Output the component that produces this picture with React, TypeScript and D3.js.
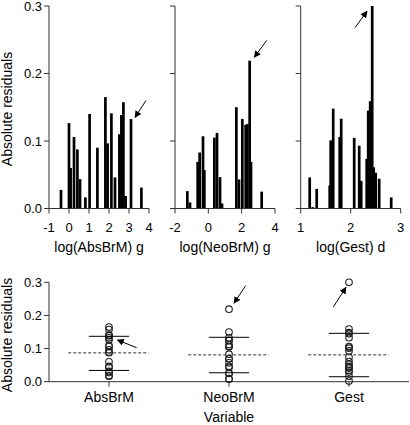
import React from "react";
import * as d3 from "d3";

// ---- data ----
const absX = [-0.4, 0.0, 0.08, 0.25, 0.42, 0.55, 0.82, 1.03, 1.42, 1.82, 1.93, 2.12, 2.3, 2.52, 2.62, 2.72, 2.83, 3.1, 3.62];
const absR = [0.0275, 0.1265, 0.06, 0.106, 0.0875, 0.0435, 0.0165, 0.14, 0.09, 0.165, 0.0965, 0.141, 0.046, 0.11, 0.1385, 0.1575, 0.0185, 0.1325, 0.031];

const neoX = [-1.26, -1.1, -0.64, -0.52, -0.32, -0.24, 0.36, 0.52, 0.7, 0.82, 1.68, 1.84, 2.04, 2.24, 2.34, 2.48, 2.56, 3.2];
const neoR = [0.0257, 0.009, 0.069, 0.083, 0.107, 0.057, 0.105, 0.112, 0.0465, 0.0074, 0.15, 0.043, 0.1327, 0.124, 0.125, 0.219, 0.069, 0.025];

const gestX = [1.18, 1.24, 1.32, 1.58, 1.6, 1.65, 1.78, 1.81, 2.07, 2.17, 2.21, 2.32, 2.35, 2.39, 2.43, 2.46, 2.5, 2.57, 2.81];
const gestR = [0.046, 0.002, 0.029, 0.034, 0.101, 0.148, 0.106, 0.133, 0.1045, 0.093, 0.041, 0.0736, 0.145, 0.159, 0.3, 0.061, 0.053, 0.044, 0.0164];

const panelTitles = ["log(AbsBrM) g", "log(NeoBrM) g", "log(Gest) d"];
const panelDomains: [number, number][] = [[-1, 4], [-2, 4], [1, 3]];
const panelTicks = [[-1, 0, 1, 2, 3, 4], [-2, 0, 2, 4], [1, 2, 3]];
const yTicks = [0, 0.1, 0.2, 0.3];

// arrows in data units [x1, y1, x2, y2] (tail -> head)
const panelArrows = [
  [3.85, 0.16, 3.3, 0.135],
  [3.5, 0.249, 2.76, 0.224],
  [2.086, 0.268, 2.326, 0.292],
];

const categories = ["AbsBrM", "NeoBrM", "Gest"];
const catMean = [0.087, 0.081, 0.081];
const catUpper = [0.137, 0.134, 0.146];
const catLower = [0.034, 0.027, 0.015];
// arrows: band-fraction offsets from center and y values [dx1, y1, dx2, y2]
const catArrows = [
  [0.23, 0.1026, 0.07, 0.126],
  [0.139, 0.29, 0.042, 0.237],
  [-0.13, 0.226, -0.025, 0.285],
];

const FONT = "Arial, 'Liberation Sans', Helvetica, sans-serif";

export default function App() {
  const panels = [
    { x: absX, r: absR },
    { x: neoX, r: neoR },
    { x: gestX, r: gestR },
  ];
  const panelRanges: [number, number][] = [[49, 149], [175, 275], [300.7, 400.7]];
  const yTop = d3.scaleLinear().domain([0, 0.3]).range([208.5, 6]);
  const yBot = d3.scaleLinear().domain([0, 0.3]).range([381.7, 282.3]);
  const xBand = d3.scaleBand().domain(categories).range([49, 409]);
  const bw = xBand.bandwidth();
  const barW = 2.7;
  const axisColor = "#333";

  return (
    <svg
      width={410}
      height={425}
      style={{ position: "absolute", left: 0, top: 0, background: "#fff" }}
      fontFamily={FONT}
    >
      <defs>
        <marker
          id="ah"
          viewBox="0 0 10 10"
          refX="9"
          refY="5"
          markerWidth="7"
          markerHeight="7"
          markerUnits="userSpaceOnUse"
          orient="auto"
        >
          <path d="M0,0 L10,5 L0,10 z" fill="#000" />
        </marker>
      </defs>

      {panels.map((p, i) => {
        const xs = d3.scaleLinear().domain(panelDomains[i]).range(panelRanges[i]);
        const [x0, x1] = panelRanges[i];
        const a = panelArrows[i];
        return (
          <g key={i}>
            {p.x.map((v, j) => (
              <rect
                key={j}
                x={xs(v) - barW / 2}
                y={yTop(p.r[j])}
                width={barW}
                height={yTop(0) - yTop(p.r[j])}
                fill="#000"
              />
            ))}
            {/* y axis */}
            <line x1={x0} x2={x0} y1={yTop(0.3)} y2={yTop(0)} stroke={axisColor} />
            {yTicks.map((t) => (
              <g key={t}>
                <line x1={x0 - 5} x2={x0} y1={yTop(t)} y2={yTop(t)} stroke={axisColor} />
                {i === 0 && (
                  <text x={x0 - 7} y={yTop(t)} dy="0.35em" textAnchor="end" fontSize={13}>
                    {t.toFixed(1)}
                  </text>
                )}
              </g>
            ))}
            {/* x axis */}
            <line x1={x0} x2={x1} y1={yTop(0)} y2={yTop(0)} stroke={axisColor} />
            {panelTicks[i].map((t) => (
              <g key={t}>
                <line x1={xs(t)} x2={xs(t)} y1={yTop(0)} y2={yTop(0) + 5} stroke={axisColor} />
                <text x={xs(t)} y={231.5} textAnchor="middle" fontSize={13}>
                  {t}
                </text>
              </g>
            ))}
            <text x={(x0 + x1) / 2} y={252} textAnchor="middle" fontSize={14}>
              {panelTitles[i]}
            </text>
            <line
              x1={xs(a[0])}
              y1={yTop(a[1])}
              x2={xs(a[2])}
              y2={yTop(a[3])}
              stroke="#000"
              strokeWidth={1}
              markerEnd="url(#ah)"
            />
          </g>
        );
      })}
      <text
        transform={`translate(12, 109) rotate(-90)`}
        textAnchor="middle"
        fontSize={14}
      >
        Absolute residuals
      </text>

      {/* bottom scatter */}
      <line x1={49} x2={49} y1={yBot(0.3)} y2={yBot(0)} stroke={axisColor} />
      {yTicks.map((t) => (
        <g key={t}>
          <line x1={44} x2={49} y1={yBot(t)} y2={yBot(t)} stroke={axisColor} />
          <text x={42} y={yBot(t)} dy="0.35em" textAnchor="end" fontSize={13}>
            {t.toFixed(1)}
          </text>
        </g>
      ))}
      <line x1={49} x2={409} y1={yBot(0)} y2={yBot(0)} stroke={axisColor} />
      {categories.map((c, i) => {
        const cx = (xBand(c) as number) + bw / 2;
        const vals = panels[i].r;
        const a = catArrows[i];
        return (
          <g key={c}>
            <line x1={cx} x2={cx} y1={yBot(0)} y2={yBot(0) + 5} stroke={axisColor} />
            <text x={cx} y={401.5} textAnchor="middle" fontSize={14}>
              {c}
            </text>
            {vals.map((v, j) => (
              <circle key={j} cx={cx} cy={yBot(v)} r={3.3} fill="none" stroke="#222" strokeWidth={1.1} />
            ))}
            <line
              x1={cx - bw * 0.34}
              x2={cx + bw * 0.33}
              y1={yBot(catMean[i])}
              y2={yBot(catMean[i])}
              stroke="#333"
              strokeDasharray="3,2"
            />
            <line x1={cx - bw * 0.168} x2={cx + bw * 0.168} y1={yBot(catUpper[i])} y2={yBot(catUpper[i])} stroke="#000" />
            <line x1={cx - bw * 0.168} x2={cx + bw * 0.168} y1={yBot(catLower[i])} y2={yBot(catLower[i])} stroke="#000" />
            <line
              x1={cx + a[0] * bw}
              y1={yBot(a[1])}
              x2={cx + a[2] * bw}
              y2={yBot(a[3])}
              stroke="#000"
              markerEnd="url(#ah)"
            />
          </g>
        );
      })}
      <text x={229} y={422} textAnchor="middle" fontSize={14}>
        Variable
      </text>
      <text transform={`translate(12, 335) rotate(-90)`} textAnchor="middle" fontSize={14}>
        Absolute residuals
      </text>
    </svg>
  );
}
